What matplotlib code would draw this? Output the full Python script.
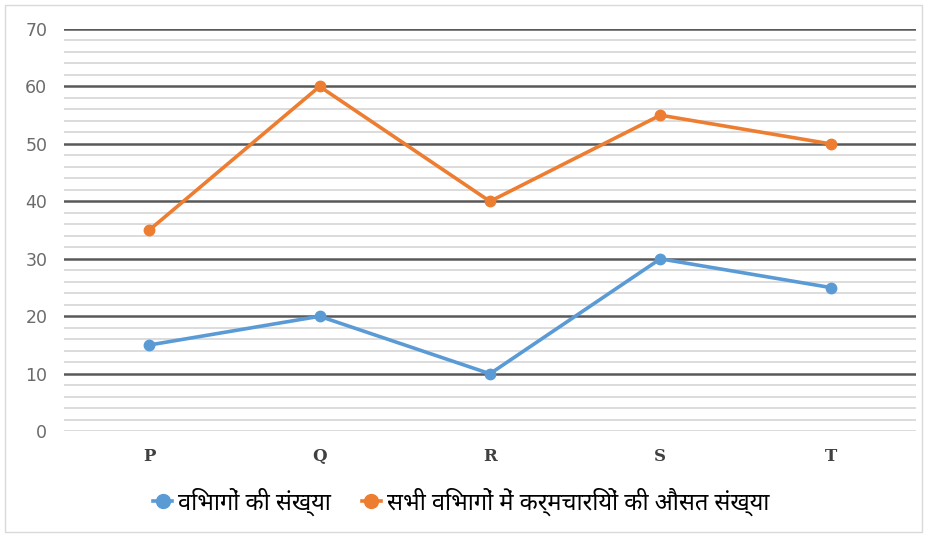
import matplotlib
matplotlib.use('Agg')
import matplotlib.pyplot as plt
from matplotlib.lines import Line2D
from matplotlib.patches import Rectangle

categories = ['P', 'Q', 'R', 'S', 'T']
departments = [15, 20, 10, 30, 25]
avg_employees = [35, 60, 40, 55, 50]
series_names = ['विभागों की संख्या', 'सभी विभागों में कर्मचारियों की औसत संख्या']
colors = ['#5B9BD5', '#ED7D31']

fig = plt.figure(figsize=(9.28, 5.37), dpi=100)
ax = fig.add_axes([0.069, 0.197, 0.918, 0.749])

x = range(len(categories))
ax.plot(x, departments, color=colors[0], lw=2.6, marker='o', ms=7.5, zorder=5)
ax.plot(x, avg_employees, color=colors[1], lw=2.6, marker='o', ms=7.5, zorder=5)

ax.set_xlim(-0.5, len(categories) - 0.5)
ax.set_ylim(0, 70)
ax.set_yticks(range(0, 71, 10))
ax.set_yticks(range(0, 71, 2), minor=True)
ax.grid(which='minor', axis='y', color='#d9d9d9', lw=1.3)
ax.grid(which='major', axis='y', color='#595959', lw=1.8)
# the zero line is light in the original
ax.get_ygridlines()[0].set_color('#d9d9d9')
ax.get_ygridlines()[0].set_linewidth(1.3)
ax.set_axisbelow(True)
for s in ax.spines.values():
    s.set_visible(False)
ax.tick_params(axis='both', which='both', length=0)
ax.tick_params(axis='y', labelsize=12.5, labelcolor='#6b6b6b', pad=12)
ax.set_xticks(list(x))
ax.set_xticklabels(categories, family='DejaVu Serif', fontweight='bold',
                   fontsize=12, color='#404040')
ax.tick_params(axis='x', pad=12)

handles = [Line2D([], [], color=c, lw=2.6, marker='o', ms=10) for c in colors]
fig.legend(handles, series_names, loc='center', bbox_to_anchor=(0.497, 0.066),
           ncol=2, frameon=False, handlelength=0.8, handletextpad=0.25,
           columnspacing=1.3,
           prop={'family': ['Noto Sans Devanagari', 'DejaVu Sans'], 'size': 17})

fig.patches.append(Rectangle((5 / 928, 5 / 537), 917 / 928, 527 / 537,
                             transform=fig.transFigure, fill=False,
                             edgecolor='#d9d9d9', lw=1))
fig.savefig('out.png')
